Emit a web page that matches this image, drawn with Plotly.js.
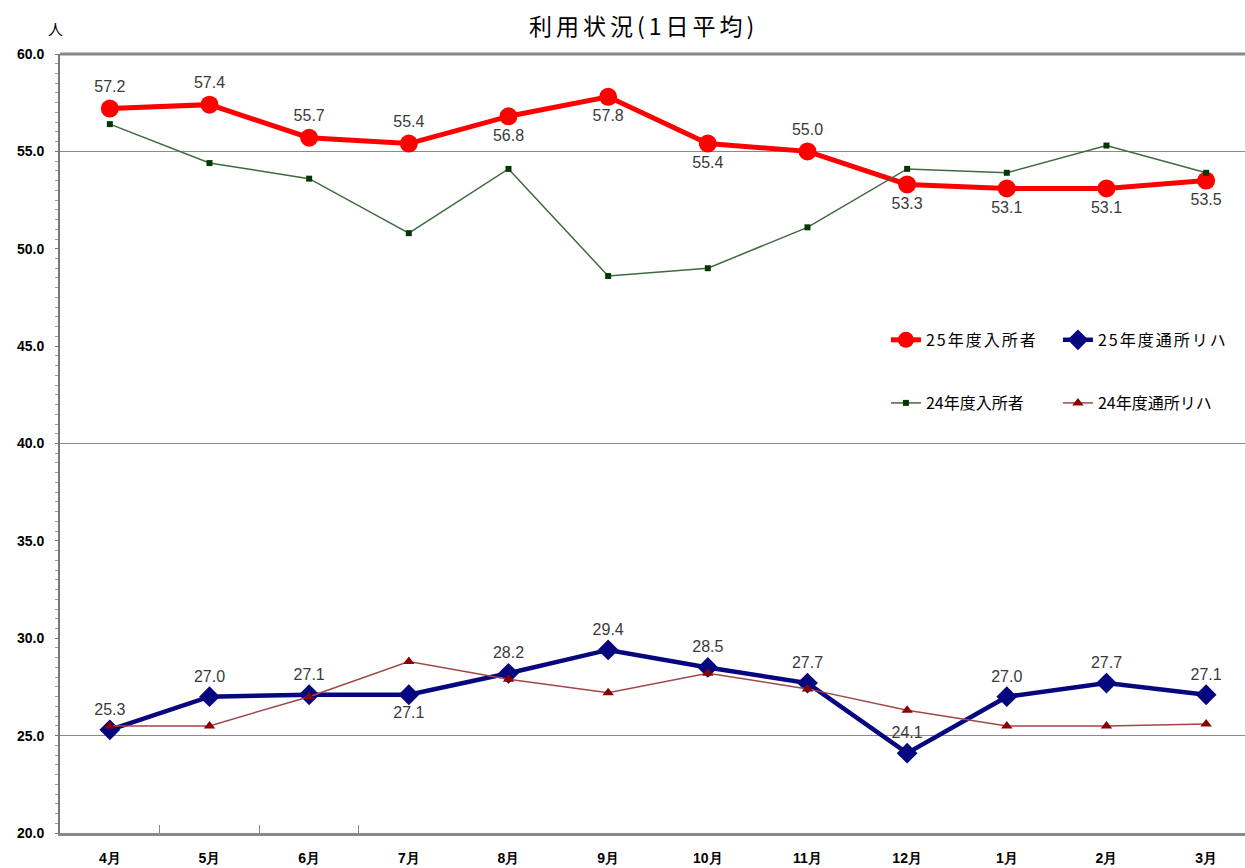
<!DOCTYPE html>
<html><head><meta charset="utf-8">
<script src="https://cdn.plot.ly/plotly-3.0.1.min.js"></script>
<style>html,body{margin:0;padding:0;background:#fff}#c{width:1245px;height:868px}
#c text.legendtext{letter-spacing:2px !important}
#c .gtitle{letter-spacing:4px}
</style>
</head><body><div id="c"></div>
<script>
const months = ['4月','5月','6月','7月','8月','9月','10月','11月','12月','1月','2月','3月'];
const nyusho25 = [57.2,57.4,55.7,55.4,56.8,57.8,55.4,55.0,53.3,53.1,53.1,53.5];
const tsusho25 = [25.3,27.0,27.1,27.1,28.2,29.4,28.5,27.7,24.1,27.0,27.7,27.1];
const nyusho24 = [56.4,54.4,53.6,50.8,54.1,48.6,49.0,51.1,54.1,53.9,55.3,53.9];
const tsusho24 = [25.5,25.5,27.0,28.8,27.9,27.2,28.2,27.4,26.3,25.5,25.5,25.6];
const nyushoPos = ['top center','top center','top center','top center','bottom center','bottom center','bottom center','top center','bottom center','bottom center','bottom center','bottom center'];
const tsushoPos = ['top center','top center','top center','bottom center','top center','top center','top center','top center','top center','top center','top center','top center'];
const fmt = a => a.map(v => v.toFixed(1));
const lblFont = {family:'Liberation Sans, Arial, sans-serif', size:16, color:'#3a3a3a'};

const traces = [
 {x:months, y:nyusho25, name:'25年度入所者', mode:'lines+markers+text', text:fmt(nyusho25), textposition:nyushoPos, textfont:lblFont,
  line:{color:'#ff0000', width:5}, marker:{symbol:'circle', size:18, color:'#ff0000'}, legend:'legend'},
 {x:months, y:tsusho25, name:'25年度通所リハ', mode:'lines+markers+text', text:fmt(tsusho25), textposition:tsushoPos, textfont:lblFont,
  line:{color:'#06067f', width:4.5}, marker:{symbol:'diamond', size:16, color:'#06067f'}, legend:'legend'},
 {x:months, y:nyusho24, name:'24年度入所者', mode:'lines+markers',
  line:{color:'#3d6b3d', width:1.5}, marker:{symbol:'square', size:6, color:'#063806'}, legend:'legend2'},
 {x:months, y:tsusho24, name:'24年度通所リハ', mode:'lines+markers',
  line:{color:'#a04848', width:1.5}, marker:{symbol:'triangle-up', size:10, color:'#8b0000'}, legend:'legend2'}
];
// invisible trace for gridline/tick overlay axes
traces.push({x:months, y:nyusho25, xaxis:'x2', yaxis:'y2', mode:'none', showlegend:false, hoverinfo:'skip'});

const tickFont = {family:'Liberation Sans, Arial, sans-serif', size:14, color:'#000', weight:'bold'};
const legFont = {family:'Noto Sans CJK JP, sans-serif', size:16, color:'#000'};
const xr = [-0.5, 11.39];
const layout = {
  width:1245, height:868,
  margin:{l:60, r:0, t:54, b:35},
  paper_bgcolor:'#fff', plot_bgcolor:'#fff',
  title:{text:'利用状況(1日平均)', x:0.517, xanchor:'center', y:0.969, yanchor:'middle',
         font:{family:'Noto Sans CJK JP, sans-serif', size:23, color:'#000'}},
  xaxis:{type:'category', range:xr, showgrid:false, zeroline:false,
         showline:true, linecolor:'#888', linewidth:3, mirror:false,
         ticks:'', tickfont:tickFont, ticklabelstandoff:10},
  yaxis:{range:[20,60], dtick:5, tickformat:'.1f', showgrid:false, zeroline:false,
         showline:true, linecolor:'#777', linewidth:2, ticks:'outside', ticklen:3, tickcolor:'#777',
         minor:{dtick:0.5, ticks:'outside', ticklen:3, tickcolor:'#999'},
         tickfont:tickFont, ticklabelstandoff:8},
  xaxis2:{overlaying:'x', type:'linear', range:xr, tickvals:[0.5,1.5,2.5], ticks:'inside', ticklen:8, tickcolor:'#888',
          showticklabels:false, showgrid:false, zeroline:false, side:'bottom', anchor:'y2'},
  yaxis2:{overlaying:'y', range:[20,60], tickvals:[25,40,55,60], showgrid:true, gridcolor:'#8a8a8a', gridwidth:1.5,
          showticklabels:false, zeroline:false, ticks:'', side:'left'},
  legend:{orientation:'h', x:0.697, xanchor:'left', y:0.633, yanchor:'middle', font:legFont,
          bgcolor:'rgba(0,0,0,0)', entrywidth:127, entrywidthmode:'pixels', traceorder:'normal'},
  legend2:{orientation:'h', x:0.697, xanchor:'left', y:0.552, yanchor:'middle', font:legFont,
          bgcolor:'rgba(0,0,0,0)', entrywidth:127, entrywidthmode:'pixels', traceorder:'normal'},
  annotations:[{text:'人', xref:'paper', yref:'paper', x:-0.004, y:1.0, yshift:26, xanchor:'center', yanchor:'middle', showarrow:false,
                font:{family:'Noto Sans CJK JP, sans-serif', size:15, color:'#000'}}],
  shapes:[{type:'line', xref:'paper', yref:'paper', x0:0, x1:1, y0:1, y1:1, line:{color:'#888', width:3}}],
  showlegend:true
};
Plotly.newPlot('c', traces, layout, {staticPlot:true}).then(function(gd){
  gd.querySelectorAll('text.legendtext').forEach(function(t){ t.style.letterSpacing = '2px'; });
});
</script></body></html>
